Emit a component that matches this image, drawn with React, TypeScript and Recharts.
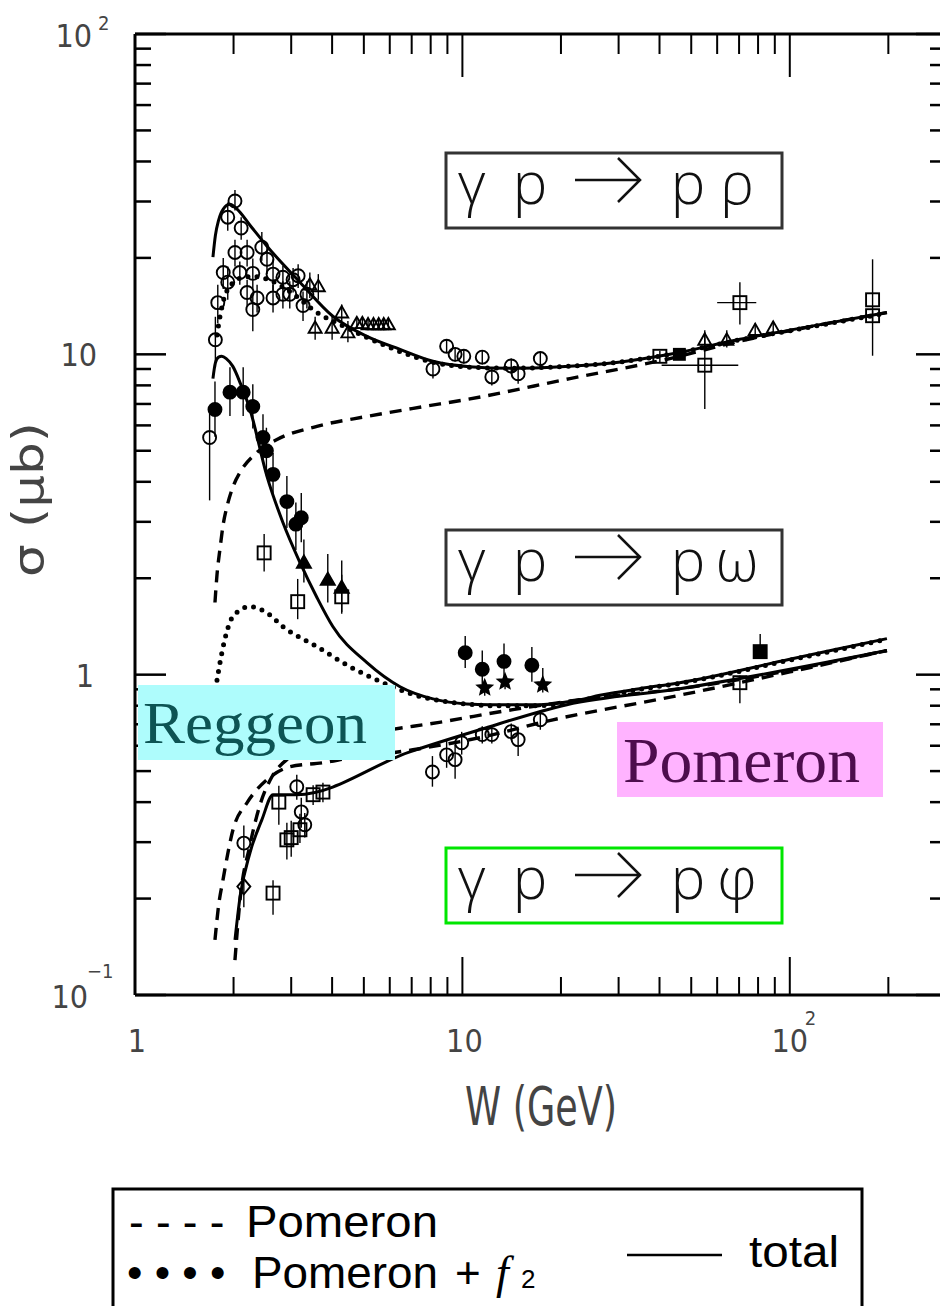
import { ComposedChart, Line, Scatter, XAxis, YAxis, ErrorBar } from 'recharts';

// ---- axis ticks ----
const xTicks = [1, 2, 3, 4, 5, 6, 7, 8, 9, 10, 20, 30, 40, 50, 60, 70, 80, 90, 100, 200, 300];
const yTicks = [
  0.1, 0.2, 0.3, 0.4, 0.5, 0.6, 0.7, 0.8, 0.9,
  1, 2, 3, 4, 5, 6, 7, 8, 9,
  10, 20, 30, 40, 50, 60, 70, 80, 90, 100,
];

// ---- model curves [W (GeV), sigma (µb)] ----
const rhoTotal = [
  [1.73, 20.1], [1.76, 23.5], [1.8, 26.2], [1.86, 28.4], [1.95, 29.4], [2.05, 28.4],
  [2.245, 25.3], [2.53, 21.75], [3.19, 16.8], [4.02, 13.15], [5.11, 11.38], [6.45, 10.36],
  [8.13, 9.51], [10.5, 9.15], [14, 9.05], [20, 9.15], [30, 9.45], [43, 10.0],
  [70.4, 11.14], [100, 11.9], [198, 13.5],
];
const rhoDotted = [
  [1.78, 11.5], [1.82, 13.2], [1.88, 15.2], [1.95, 16.3], [2.1, 17.3], [2.3, 17.5],
  [2.6, 17.0], [3.0, 15.6], [3.6, 13.5], [4.3, 12.3], [5.2, 11.2], [6.45, 10.2],
  [8.13, 9.45], [10.5, 9.12], [14, 9.05], [20, 9.15], [30, 9.45], [43, 10.0],
  [70.4, 11.1], [100, 11.85], [198, 13.45],
];
const rhoDashed = [
  [1.755, 1.68], [1.78, 2.05], [1.817, 2.46], [1.86, 2.95], [1.91, 3.35], [2.0, 3.9],
  [2.093, 4.28], [2.358, 4.94], [2.714, 5.42], [3.595, 5.96], [5.11, 6.4], [7.5, 6.85],
  [10.32, 7.23], [21.3, 8.4], [43, 9.7], [70.4, 11.0], [100, 11.85], [198, 13.5],
];
const omegaTotal = [
  [1.73, 8.4], [1.76, 9.4], [1.8, 9.8], [1.84, 9.86], [1.9, 9.7], [1.99, 9.17], [2.1, 8.1],
  [2.245, 6.73], [2.53, 4.16], [2.83, 2.985], [3.19, 2.24], [3.595, 1.741], [4.02, 1.413],
  [5.11, 1.09], [6.45, 0.917], [8.13, 0.84], [10.3, 0.81], [12.1, 0.806], [17.25, 0.806],
  [22.8, 0.835], [26.3, 0.862], [34.8, 0.904], [46.1, 0.944], [100, 1.117], [198, 1.296],
];
const omegaDotted = [
  [1.78, 0.96], [1.83, 1.13], [1.88, 1.286], [1.99, 1.518], [2.245, 1.631], [2.53, 1.56],
  [2.83, 1.413], [3.595, 1.223], [4.535, 1.059], [5.717, 0.944], [7.0, 0.87], [8.5, 0.83],
  [10.3, 0.81], [12.1, 0.8], [17.25, 0.8], [22.8, 0.83], [34.8, 0.9], [46.1, 0.94],
  [100, 1.11], [198, 1.29],
];
const omegaDashed = [
  [1.755, 0.1486], [1.8, 0.19], [1.857, 0.229], [1.992, 0.328], [2.198, 0.398], [2.53, 0.47],
  [2.973, 0.516], [3.75, 0.531], [4.76, 0.554], [5.48, 0.562], [7.06, 0.583], [11.31, 0.636],
  [18.9, 0.723], [43.9, 0.854], [100, 1.02], [198, 1.189],
];
const phiTotal = [
  [2.02, 0.1486], [2.093, 0.202], [2.245, 0.278], [2.44, 0.352], [2.64, 0.422], [3.12, 0.422],
  [6.91, 0.574], [11.3, 0.673], [20.85, 0.806], [46.1, 0.904], [198, 1.189],
];
const phiDashed = [
  [2.02, 0.1286], [2.093, 0.198], [2.245, 0.294], [2.41, 0.393], [2.62, 0.48], [2.91, 0.543],
  [3.19, 0.574], [3.94, 0.617], [5.33, 0.659], [8.5, 0.71], [14.27, 0.778], [22.85, 0.835],
  [46.1, 0.904], [198, 1.189],
];

// ---- data points [W, sigma, errDown, errUp, errLeft, errRight] ----
const rhoCircles = [
  [2.02, 30.1, 2, 2.5], [1.92, 26.8, 2.5, 3], [2.11, 24.8, 2, 2], [2.02, 20.8, 2, 2],
  [2.2, 20.8, 2, 2], [2.44, 21.6, 2, 2.5], [2.53, 19.8, 2, 2], [1.86, 18.0, 2, 2],
  [1.92, 16.8, 2, 2], [2.09, 18.0, 1.5, 1.5], [2.29, 17.9, 2, 2], [2.64, 17.8, 2, 2],
  [2.83, 17.4, 1.5, 1.5], [3.04, 17.1, 1.5, 1.5], [3.15, 17.6, 1.5, 1.5], [2.2, 15.6, 1.5, 1.5],
  [2.36, 15.0, 1.5, 1.5], [2.64, 15.0, 1.5, 1.5], [2.83, 15.4, 1.5, 1.5], [2.97, 15.4, 1.5, 1.5],
  [3.35, 15.4, 1.5, 1.5], [3.26, 14.2, 1.5, 1.5], [2.29, 13.8, 2, 1.5], [1.79, 14.5, 2, 2],
  [1.76, 11.1, 2, 2], [8.95, 10.6, 0.5, 0.5], [8.13, 9.0, 0.6, 0.6], [9.5, 10.0, 0.5, 0.5],
  [10.1, 9.86, 0.5, 0.5], [11.5, 9.8, 0.5, 0.5], [12.3, 8.5, 0.5, 0.5], [14.1, 9.2, 0.5, 0.5],
  [14.8, 8.7, 0.6, 0.6], [17.3, 9.7, 0.5, 0.5],
];
const rhoTriangles = [
  [3.42, 16.5, 1.5, 1.5], [3.63, 16.3, 1.5, 1.5], [3.55, 12.1, 1, 1], [4.0, 12.1, 1, 1],
  [4.47, 11.7, 0.8, 1], [4.28, 13.5, 0.8, 0.8], [4.76, 12.5, 0.5, 0.5], [4.95, 12.5, 0.5, 0.5],
  [5.15, 12.4, 0.5, 0.5], [5.35, 12.4, 0.5, 0.5], [5.55, 12.4, 0.5, 0.5], [5.75, 12.4, 0.5, 0.5],
  [5.94, 12.4, 0.5, 0.5], [55, 11.1, 0.6, 0.8], [64.2, 11.1, 0.6, 0.8], [78.4, 11.9, 0.5, 0.6],
  [89, 12.1, 0.5, 0.6],
];
const rhoSquares = [
  [40.1, 9.86, 0.4, 0.4, 0, 0], [70.4, 14.5, 2.1, 2.3, 10.4, 8.6], [55, 9.25, 2.5, 2.45, 14.4, 14.6],
  [179, 14.8, 4.9, 5.0, 0, 0], [179, 13.2, 0.5, 0.5, 0, 0],
];
const rhoFilledSquares = [[46, 10.0, 0.3, 0.3]];

const omegaFilledCircles = [
  [1.755, 6.73, 1.2, 1.5], [1.95, 7.62, 1.2, 1.5], [2.14, 7.62, 1.2, 1.5], [2.29, 6.87, 1.0, 1.2],
  [2.46, 5.5, 0.8, 1.0], [2.52, 5.0, 0.8, 0.9], [2.64, 4.22, 0.6, 0.7], [2.91, 3.47, 0.6, 0.7],
  [3.22, 3.09, 0.5, 0.6], [3.1, 2.95, 0.5, 0.5], [10.2, 1.17, 0.12, 0.15], [11.5, 1.04, 0.12, 0.15],
  [13.4, 1.1, 0.12, 0.15], [16.3, 1.07, 0.12, 0.15],
];
const omegaOpenCircles = [[1.69, 5.5, 2.0, 1.3]];
const omegaFilledTriangles = [[3.28, 2.24, 0.3, 0.4], [3.88, 1.98, 0.3, 0.4], [4.28, 1.87, 0.3, 0.4]];
const omegaOpenSquares = [[2.48, 2.4, 0.3, 0.35], [3.14, 1.69, 0.2, 0.3], [4.28, 1.75, 0.2, 0.3], [70.4, 0.944, 0.13, 0.05]];
const omegaStars = [[11.7, 0.91, 0.05, 0.05], [13.5, 0.95, 0.05, 0.05], [17.6, 0.93, 0.05, 0.12]];
const omegaFilledSquares = [[81.2, 1.18, 0.03, 0.16]];

const phiCircles = [
  [2.15, 0.298, 0.03, 0.04], [3.12, 0.447, 0.04, 0.04], [3.22, 0.373, 0.04, 0.04], [3.3, 0.34, 0.03, 0.03],
  [8.1, 0.497, 0.05, 0.06], [8.95, 0.562, 0.05, 0.06], [9.5, 0.543, 0.07, 0.06], [9.95, 0.613, 0.05, 0.05],
  [11.5, 0.65, 0.04, 0.04], [12.3, 0.65, 0.04, 0.04], [14.1, 0.664, 0.04, 0.04], [14.8, 0.627, 0.07, 0.05],
  [17.3, 0.723, 0.05, 0.05],
];
const phiDiamonds = [[2.15, 0.218, 0.03, 0.03]];
const phiSquares = [
  [2.64, 0.208, 0.03, 0.02], [2.91, 0.305, 0.04, 0.04], [3.0, 0.31, 0.04, 0.04], [3.19, 0.328, 0.03, 0.04],
  [3.5, 0.422, 0.03, 0.03], [3.75, 0.43, 0.03, 0.03], [2.75, 0.4, 0.06, 0.05],
];

const toLine = (rows: number[][]) => rows.map(([W, s]) => ({ W, s }));
const toPts = (rows: number[][]) =>
  rows.map(([W, s, d = 0, u = 0, l = 0, r = 0]) => ({ W, s, ey: [d, u], ex: [l, r] }));

const AX_FONT = "'Liberation Sans Narrow', 'DejaVu Sans Condensed', 'Liberation Sans', sans-serif";
const SANS = "'Liberation Sans', Arial, sans-serif";
const SERIF = "'Liberation Serif', 'DejaVu Serif', serif";
const THIN = "'Open Sans', Lato, 'DejaVu Sans', sans-serif";
const AX_INK = '#444';

const isMajor = (v: number) => Math.abs(Math.log10(v) - Math.round(Math.log10(v))) < 1e-9;

// ---- ticks (pointing inward) ----
const BottomTick = ({ x, y, payload }: any) => {
  const v = payload.value;
  const major = isMajor(v);
  const lab = { fill: AX_INK, fontFamily: AX_FONT };
  return (
    <g>
      <line x1={x} x2={x} y1={y} y2={y - (major ? 38 : 18)} stroke="#000" strokeWidth={2} />
      {v === 1 && <text x={x + 2} y={y + 57} textAnchor="middle" fontSize={32} {...lab}>1</text>}
      {v === 10 && <text x={x + 2} y={y + 57} textAnchor="middle" fontSize={32} {...lab}>10</text>}
      {v === 100 && (
        <g>
          <text x={x} y={y + 57} textAnchor="middle" fontSize={32} {...lab}>10</text>
          <text x={x + 15} y={y + 30} fontSize={20} {...lab}>2</text>
        </g>
      )}
    </g>
  );
};

const TopTick = ({ x, y, payload }: any) => {
  const major = isMajor(payload.value);
  return <line x1={x} x2={x} y1={y} y2={y + (major ? 43 : 20)} stroke="#000" strokeWidth={2} />;
};

const LeftTick = ({ x, y, payload }: any) => {
  const v = payload.value;
  const major = isMajor(v);
  const lab = { fill: AX_INK, fontFamily: AX_FONT };
  return (
    <g>
      <line x1={x} x2={x + (major ? 31 : 16)} y1={y} y2={y} stroke="#000" strokeWidth={2.5} />
      {v === 100 && (
        <g>
          <text x={x - 43} y={y + 13} textAnchor="end" fontSize={32} {...lab}>10</text>
          <text x={x - 37} y={y - 4} fontSize={20} {...lab}>2</text>
        </g>
      )}
      {v === 10 && <text x={x - 38} y={y + 12} textAnchor="end" fontSize={32} {...lab}>10</text>}
      {v === 1 && <text x={x - 41} y={y + 12} textAnchor="end" fontSize={32} {...lab}>1</text>}
      {v === 0.1 && (
        <g>
          <text x={x - 47} y={y + 13} textAnchor="end" fontSize={32} {...lab}>10</text>
          <text x={x - 48} y={y - 17} fontSize={20} {...lab}>−1</text>
        </g>
      )}
    </g>
  );
};

const RightTick = ({ x, y, payload }: any) => {
  const major = isMajor(payload.value);
  return <line x1={x} x2={x - (major ? 30 : 16)} y1={y} y2={y} stroke="#000" strokeWidth={2.5} />;
};

// ---- marker shapes ----
const marker = (kind: string, filled: boolean, s = 6) => (p: any) => {
  const { cx, cy } = p;
  if (cx == null || cy == null) return <g />;
  const st = { fill: filled ? '#000' : 'none', stroke: '#000', strokeWidth: 1.9 };
  if (kind === 'circle') return <circle cx={cx} cy={cy} r={s} {...st} />;
  if (kind === 'square') return <rect x={cx - s} y={cy - s} width={2 * s} height={2 * s} {...st} />;
  if (kind === 'triangle')
    return <polygon points={`${cx},${cy - s} ${cx - s},${cy + s * 0.75} ${cx + s},${cy + s * 0.75}`} {...st} />;
  if (kind === 'diamond')
    return <polygon points={`${cx},${cy - s * 1.2} ${cx - s},${cy} ${cx},${cy + s * 1.2} ${cx + s},${cy}`} {...st} />;
  const pts: string[] = [];
  for (let i = 0; i < 10; i++) {
    const r = i % 2 === 0 ? s : s * 0.45;
    const a = -Math.PI / 2 + (i * Math.PI) / 5;
    pts.push(`${cx + r * Math.cos(a)},${cy + r * Math.sin(a)}`);
  }
  return <polygon points={pts.join(' ')} {...st} />;
};

const solid = { stroke: '#000', strokeWidth: 3 };
const dashed = { stroke: '#000', strokeWidth: 3.4, strokeDasharray: '12 8' };
const dotted = { stroke: '#000', strokeWidth: 5, strokeDasharray: '0 9', strokeLinecap: 'round' as const };

const curves = [
  { name: 'rho-dashed', rows: rhoDashed, st: dashed },
  { name: 'rho-dotted', rows: rhoDotted, st: dotted },
  { name: 'rho-total', rows: rhoTotal, st: solid },
  { name: 'omega-dashed', rows: omegaDashed, st: dashed },
  { name: 'omega-dotted', rows: omegaDotted, st: dotted },
  { name: 'omega-total', rows: omegaTotal, st: solid },
  { name: 'phi-dashed', rows: phiDashed, st: dashed },
  { name: 'phi-total', rows: phiTotal, st: solid },
];

const pointSets = [
  { name: 'rho-c', rows: rhoCircles, shape: marker('circle', false, 6.5), xErr: false },
  { name: 'rho-t', rows: rhoTriangles, shape: marker('triangle', false, 6.5), xErr: false },
  { name: 'rho-s', rows: rhoSquares, shape: marker('square', false, 6.5), xErr: true },
  { name: 'rho-fs', rows: rhoFilledSquares, shape: marker('square', true, 5.5), xErr: false },
  { name: 'om-fc', rows: omegaFilledCircles, shape: marker('circle', true, 6.5), xErr: false },
  { name: 'om-oc', rows: omegaOpenCircles, shape: marker('circle', false, 6.5), xErr: false },
  { name: 'om-ft', rows: omegaFilledTriangles, shape: marker('triangle', true, 7), xErr: false },
  { name: 'om-os', rows: omegaOpenSquares, shape: marker('square', false, 6.5), xErr: false },
  { name: 'om-st', rows: omegaStars, shape: marker('star', true, 7.5), xErr: false },
  { name: 'om-fs', rows: omegaFilledSquares, shape: marker('square', true, 6.5), xErr: false },
  { name: 'phi-c', rows: phiCircles, shape: marker('circle', false, 6.5), xErr: false },
  { name: 'phi-d', rows: phiDiamonds, shape: marker('diamond', false, 6.5), xErr: false },
  { name: 'phi-s', rows: phiSquares, shape: marker('square', false, 6.5), xErr: false },
];

function Reaction({ top, sym, color }: { top: number; sym: string; color: string }) {
  const t = { fontFamily: THIN, fontWeight: 300, fontSize: 58, fill: '#111', textAnchor: 'middle' as const };
  return (
    <g>
      <rect x={446} y={top} width={336} height={75} fill="none" stroke={color} strokeWidth={3} />
      <text x={472} y={top + 51} {...t}>γ</text>
      <text x={530} y={top + 51} {...t}>p</text>
      <path
        d={`M575 ${top + 27} H640 M618 ${top + 5} L640 ${top + 27} L618 ${top + 49}`}
        stroke="#111" strokeWidth={2.5} fill="none"
      />
      <text x={688} y={top + 51} {...t}>p</text>
      <text x={737} y={top + 51} {...t}>{sym}</text>
    </g>
  );
}

export default function App() {
  return (
    <div style={{ position: 'absolute', left: 0, top: 0, width: 940, height: 1306, overflow: 'hidden', background: '#fff' }}>
      <ComposedChart width={960} height={1306} margin={{ top: 0, right: 0, bottom: 0, left: 0 }}>
        <XAxis
          xAxisId="b" type="number" dataKey="W" scale="log" domain={[1, 300]} allowDataOverflow
          ticks={xTicks} interval={0} orientation="bottom" height={311}
          tickSize={0} tickMargin={0} tick={BottomTick} axisLine={{ stroke: '#000', strokeWidth: 3 }} tickLine={false}
        />
        <XAxis
          xAxisId="t" type="number" dataKey="W" scale="log" domain={[1, 300]} allowDataOverflow
          ticks={xTicks} interval={0} orientation="top" height={34}
          tickSize={0} tickMargin={0} tick={TopTick} axisLine={{ stroke: '#000', strokeWidth: 3 }} tickLine={false}
        />
        <YAxis
          yAxisId="l" type="number" scale="log" domain={[0.1, 100]} allowDataOverflow
          ticks={yTicks} interval={0} orientation="left" width={135}
          tickSize={0} tickMargin={0} tick={LeftTick} axisLine={{ stroke: '#000', strokeWidth: 3 }} tickLine={false}
        />
        <YAxis
          yAxisId="r" type="number" scale="log" domain={[0.1, 100]} allowDataOverflow
          ticks={yTicks} interval={0} orientation="right" width={14}
          tickSize={0} tickMargin={0} tick={RightTick} axisLine={{ stroke: '#000', strokeWidth: 3 }} tickLine={false}
        />
        {curves.map((c) => (
          <Line
            key={c.name} xAxisId="b" yAxisId="l" data={toLine(c.rows)} dataKey="s" type="monotone"
            dot={false} activeDot={false} isAnimationActive={false} fill="none" {...c.st}
          />
        ))}
        {pointSets.map((p) => (
          <Scatter
            key={p.name} xAxisId="b" yAxisId="l" data={toPts(p.rows)} dataKey="s"
            shape={p.shape} isAnimationActive={false}
          >
            <ErrorBar dataKey="ey" direction="y" width={0} stroke="#000" strokeWidth={1.4} />
            {p.xErr && <ErrorBar dataKey="ex" direction="x" width={0} stroke="#000" strokeWidth={1.4} />}
          </Scatter>
        ))}
      </ComposedChart>

      <svg width={940} height={1306} style={{ position: 'absolute', left: 0, top: 0, pointerEvents: 'none' }}>
        <Reaction top={153} sym="ρ" color="#333" />
        <Reaction top={530} sym="ω" color="#333" />
        <Reaction top={848} sym="φ" color="#00e600" />

        <rect x={138} y={685} width={257} height={75} fill="#aefcfc" />
        <text x={143} y={743} fontFamily={SERIF} fontSize={60} fill="#0d5454" textLength={224} lengthAdjust="spacingAndGlyphs">Reggeon</text>
        <rect x={617} y={722} width={266} height={75} fill="#ffb3ff" />
        <text x={623} y={782} fontFamily={SERIF} fontSize={63} fill="#4d0d4d" textLength={237} lengthAdjust="spacingAndGlyphs">Pomeron</text>

        <text x={465} y={1125} fontFamily={AX_FONT} fontSize={54} fill={AX_INK} textLength={152} lengthAdjust="spacingAndGlyphs">W  (GeV)</text>
        <text x={43} y={577} transform="rotate(-90 43 577)" fontFamily={AX_FONT} fontSize={42} fill={AX_INK} textLength={155} lengthAdjust="spacingAndGlyphs">σ  (μb)</text>

        <rect x={113} y={1189} width={749} height={140} fill="none" stroke="#000" strokeWidth={3} />
        <text x={129} y={1237} fontFamily={SANS} fontSize={44} fill="#000">- - - -</text>
        <text x={246} y={1237} fontFamily={SANS} fontSize={44} fill="#000" textLength={192} lengthAdjust="spacingAndGlyphs">Pomeron</text>
        <text x={127} y={1288} fontFamily={SANS} fontSize={44} fill="#000">• • • •</text>
        <text x={252} y={1288} fontFamily={SANS} fontSize={44} fill="#000" textLength={186} lengthAdjust="spacingAndGlyphs">Pomeron</text>
        <text x={455} y={1288} fontFamily={SANS} fontSize={44} fill="#000">+</text>
        <text x={496} y={1288} fontFamily={SERIF} fontStyle="italic" fontSize={46} fill="#000">f</text>
        <text x={521} y={1288} fontFamily={SANS} fontSize={26} fill="#000">2</text>
        <line x1={627} x2={722} y1={1255} y2={1255} stroke="#000" strokeWidth={2.5} />
        <text x={749} y={1267} fontFamily={SANS} fontSize={44} fill="#000" textLength={90} lengthAdjust="spacingAndGlyphs">total</text>
      </svg>
    </div>
  );
}
